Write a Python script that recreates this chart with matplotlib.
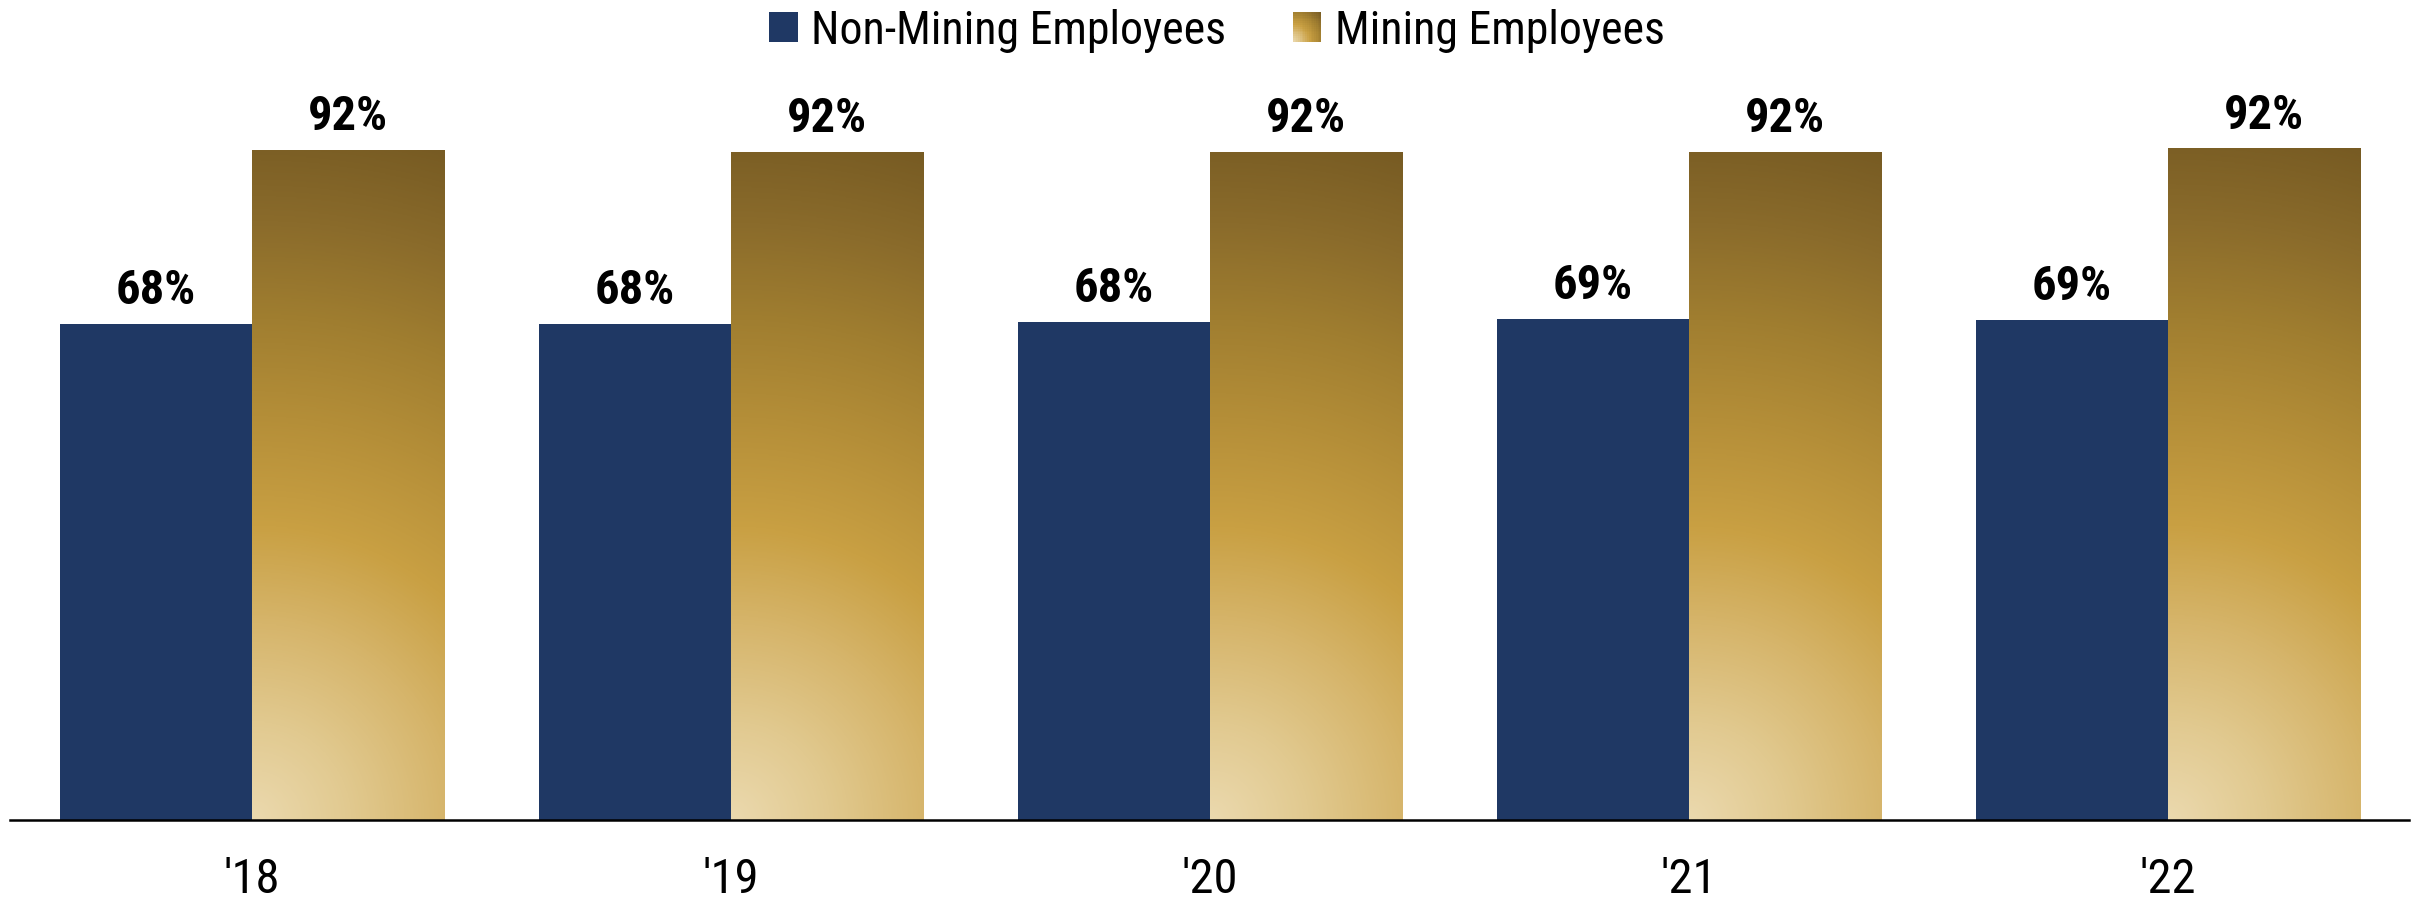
import numpy as np
import matplotlib
matplotlib.use("Agg")
import matplotlib.pyplot as plt
from matplotlib.colors import LinearSegmentedColormap
from matplotlib.legend_handler import HandlerBase
from matplotlib.patches import Rectangle, Patch

# ---- data -------------------------------------------------------------
years = ["'18", "'19", "'20", "'21", "'22"]
non_mining = [68.1, 68.1, 68.4, 68.8, 68.6]
mining = [92.0, 91.7, 91.7, 91.7, 92.2]
series_names = ["Non-Mining Employees", "Mining Employees"]

# ---- style ------------------------------------------------------------
NAVY = "#1f3864"
gold_stops = [
    (0.00, "#ebd9ae"),
    (0.14, "#e1c98f"),
    (0.28, "#d6b56b"),
    (0.42, "#c9a043"),
    (0.58, "#b48e38"),
    (0.72, "#a07e30"),
    (0.86, "#8a6b2b"),
    (1.00, "#775b23"),
]
gold_cmap = LinearSegmentedColormap.from_list("gold", gold_stops)

plt.rcParams["font.family"] = ["Roboto Condensed", "Liberation Sans", "DejaVu Sans"]

W, H, DPI = 2420, 903, 100
fig = plt.figure(figsize=(W / DPI, H / DPI), dpi=DPI)
ax = fig.add_axes([10 / W, 82 / H, 2399 / W, 821 / H])

x = np.arange(len(years))
bw = 0.401
ax.set_xlim(-0.505, len(years) - 1 + 0.503)
ax.set_ylim(0, 112.7)

bars_nm = ax.bar(x - bw / 2, non_mining, bw, color=NAVY, linewidth=0, zorder=2)
bars_m = ax.bar(x + bw / 2, mining, bw, facecolor="none", linewidth=0, zorder=2)

# radial gradient fill from the lower-left corner of each gold bar
fig.canvas.draw()
for rect in bars_m:
    x0, y0 = rect.get_x(), rect.get_y()
    x1, y1 = x0 + rect.get_width(), y0 + rect.get_height()
    p0 = ax.transData.transform((x0, y0))
    p1 = ax.transData.transform((x1, y1))
    wpx, hpx = abs(p1[0] - p0[0]), abs(p1[1] - p0[1])
    nx, ny = 200, 600
    u = np.linspace(0, wpx, nx)[None, :]
    v = np.linspace(hpx, 0, ny)[:, None]
    r = np.sqrt(u ** 2 + v ** 2) / np.hypot(wpx, hpx)
    im = ax.imshow(gold_cmap(r), extent=(x0, x1, y0, y1), aspect="auto",
                   interpolation="bilinear", zorder=2)
    im.set_clip_path(rect)

# value labels
for rect, val in list(zip(bars_nm, non_mining)) + list(zip(bars_m, mining)):
    ax.annotate(f"{val:.0f}%", (rect.get_x() + rect.get_width() / 2, rect.get_height()),
                xytext=(0, 15), textcoords="offset points", ha="center", va="baseline",
                fontsize=35, fontweight="bold", color="black")

# axes cosmetics
for s in ("top", "right", "left"):
    ax.spines[s].set_visible(False)
ax.spines["bottom"].set_linewidth(1.8)
ax.spines["bottom"].set_color("black")
ax.set_yticks([])
ax.set_xticks(x)
ax.set_xticklabels(years, fontsize=35)
ax.tick_params(axis="x", length=0, pad=26)


class GradientSwatch(HandlerBase):
    def create_artists(self, legend, orig_handle, xdescent, ydescent, width, height,
                       fontsize, trans):
        n = 16
        arts = []
        for i in range(n):
            for j in range(n):
                uu = (i + 0.5) / n
                vv = (j + 0.5) / n
                rr = np.hypot(uu, vv) / np.sqrt(2)
                arts.append(Rectangle((-xdescent + i * width / n, -ydescent + j * height / n),
                                      width / n * 1.02, height / n * 1.02,
                                      facecolor=gold_cmap(rr), edgecolor="none",
                                      transform=trans))
        return arts


h_nm = Patch(facecolor=NAVY, edgecolor="none")
h_m = Patch(facecolor="#b08a36", edgecolor="none")
fig.legend([h_nm, h_m], series_names, loc="center", bbox_to_anchor=(1217 / W, 1 - 31 / H),
           ncol=2, frameon=False, fontsize=33, handlelength=0.62, handleheight=0.62,
           handletextpad=0.3, columnspacing=1.45, borderpad=0, borderaxespad=0,
           handler_map={h_m: GradientSwatch()})

fig.savefig("out.png", dpi=DPI, facecolor="white")
